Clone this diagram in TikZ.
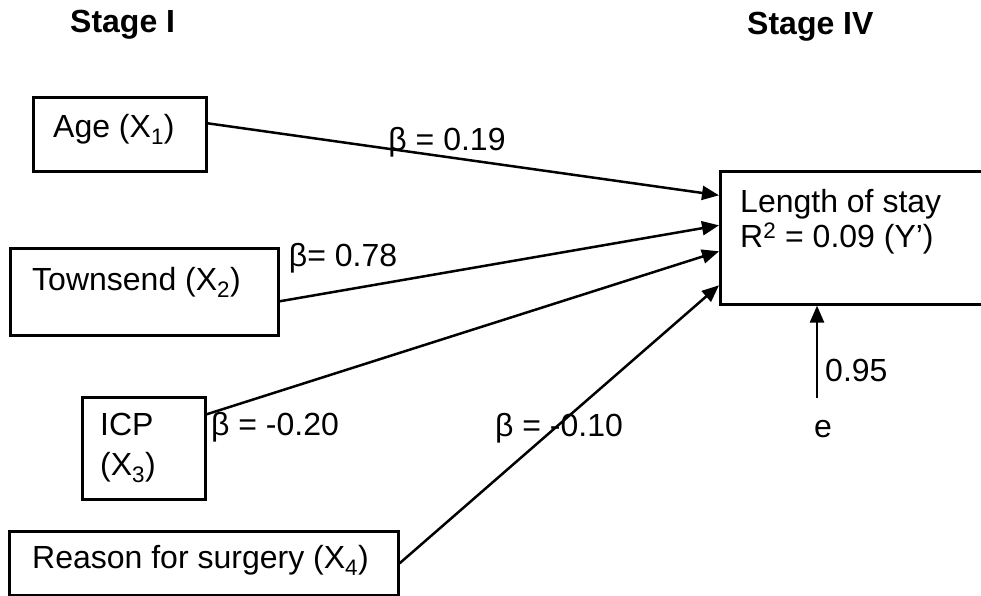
\documentclass[tikz,border=0pt]{standalone}
\usepackage{fontspec}
\setmainfont{Liberation Sans}
\usetikzlibrary{arrows.meta}
\begin{document}
\begin{tikzpicture}[x=1pt,y=-1pt,
  box/.style={draw, line width=2.6pt, inner sep=0pt, anchor=north west},
  lbl/.style={inner sep=0pt, font=\fontsize{32}{38}\selectfont},
  stagelbl/.style={inner sep=0pt, anchor=west, font=\fontsize{32}{38}\selectfont\bfseries},
  effect/.style={line width=2.5pt, -{Triangle[length=17pt,width=14pt]}}]
\useasboundingbox (0,0) rectangle (981,596);
\clip (0,0) rectangle (981,596);

% stage headings
\node[stagelbl] (stageone) at (70,25) {Stage I};
\node[stagelbl] (stagefour) at (747,27) {Stage IV};

% predictor and outcome boxes
\node[box, minimum width=173pt, minimum height=74pt]  (age)    at (32,96)  {};
\node[box, minimum width=268pt, minimum height=87pt]  (town)   at (9,247)  {};
\node[box, minimum width=123pt, minimum height=102pt] (icp)    at (81,396) {};
\node[box, minimum width=389pt, minimum height=64pt]  (reason) at (8,530)  {};
\node[box, minimum width=300pt, minimum height=133pt] (los)    at (719,170) {};

% box texts
\node[lbl, anchor=west] (agetxt) at (53,129) {Age (X\textsubscript{1})};
\node[lbl, anchor=west] (towntxt) at (32,282) {Townsend (X\textsubscript{2})};
\node[lbl, anchor=west, align=left, font=\fontsize{32}{40}\selectfont] (icptxt) at (100,448) {ICP\\(X\textsubscript{3})};
\node[lbl, anchor=west] (reasontxt) at (32,560) {Reason for surgery (X\textsubscript{4})};
\node[lbl, anchor=west, align=left, font=\fontsize{32}{35}\selectfont] (lostxt) at (740,222) {Length of stay\\R\textsuperscript{2} = 0.09 (Y’)};

% error term
\node[lbl] (e) at (823,429) {e};

% paths into the outcome
\draw[effect] ([yshift=11pt]age.east)     -- ([yshift=42.5pt]los.west);
\draw[effect] ([yshift=-9.5pt]town.east)  -- ([yshift=12.5pt]los.west);
\draw[effect] ([yshift=34pt]icp.east)     -- ([yshift=-13.5pt]los.west);
\draw[effect] (reason.east)               -- ([yshift=-47.5pt]los.west);
\draw[effect] ([shift={(-6pt,22pt)}]e.north) -- ([xshift=98pt]los.south west);

% coefficients
\node[lbl] (b1) at (447,142) {β = 0.19};
\node[lbl] (b2) at (343,258) {β= 0.78};
\node[lbl] (b3) at (275,427) {β = -0.20};
\node[lbl] (b4) at (559,428) {β = -0.10};
\node[lbl, anchor=west] (res) at (825,370) {0.95};
\end{tikzpicture}
\end{document}
